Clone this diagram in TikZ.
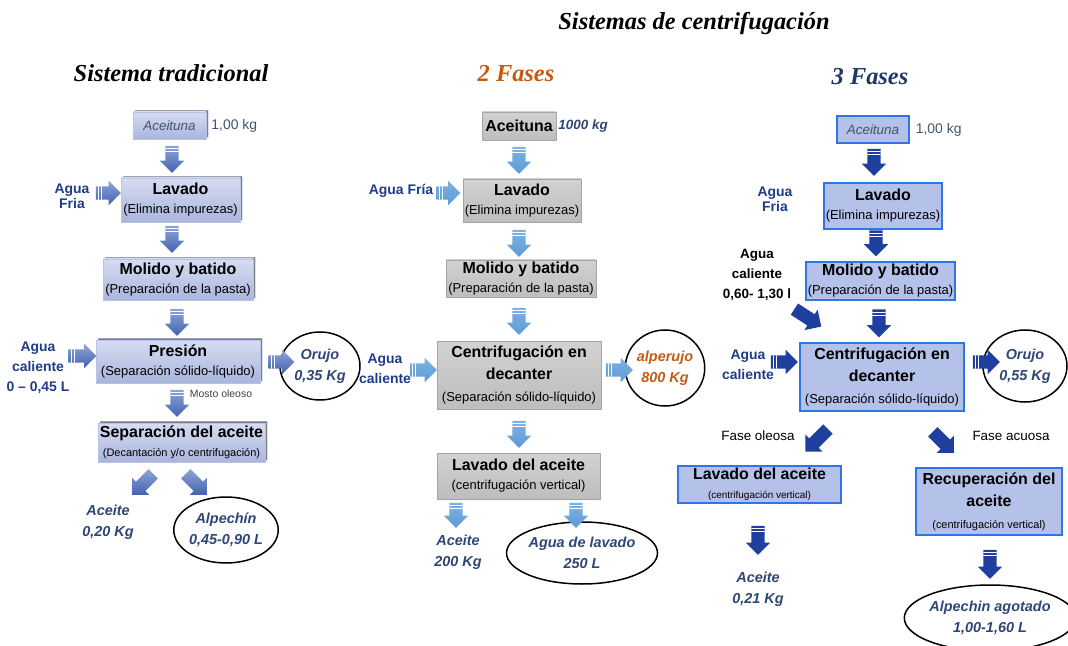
\documentclass[tikz,border=0pt]{standalone}
\usepackage{fontspec}
\setmainfont{Liberation Sans}
\newfontfamily\ttlfont{Liberation Serif}
\usetikzlibrary{shapes.arrows,shapes.geometric,shadows}

\definecolor{lblnavy}{HTML}{1F3C88}
\definecolor{slate}{HTML}{2E4676}
\definecolor{grayblue}{HTML}{44546A}
\definecolor{orng}{HTML}{C55A11}
\definecolor{ttlblue}{HTML}{1F3864}
\definecolor{tradtop}{HTML}{D6DCF1}
\definecolor{tradbot}{HTML}{A9B5DC}
\definecolor{tradline}{HTML}{B9C2E3}
\definecolor{arrtradl}{HTML}{8EA3D8}
\definecolor{arrtrad}{HTML}{4463AE}
\definecolor{arrdos}{HTML}{5B9BD5}
\definecolor{arrdosl}{HTML}{7FB2E3}
\definecolor{arrtres}{HTML}{1F3F9F}
\definecolor{dostop}{HTML}{D2D2D2}
\definecolor{dosbot}{HTML}{BDBDBD}
\definecolor{dosline}{HTML}{A5A5A5}
\definecolor{tresfill}{HTML}{B4C2EA}
\definecolor{tresline}{HTML}{2F75E3}

\newcommand{\subtx}[2][13]{{\mdseries\fontsize{#1}{#1}\selectfont #2}}

\tikzset{
  ttl/.style={font=\ttlfont\bfseries\itshape\fontsize{24.5}{27}\selectfont},
  boxtxt/.style={align=center, inner sep=0pt, font=\bfseries\fontsize{16}{19}\selectfont},
  tradbox/.style={boxtxt, top color=tradtop, bottom color=tradbot, draw=tradline,
    copy shadow={shadow xshift=2bp, shadow yshift=2bp, opacity=.5}},
  dosbox/.style={boxtxt, top color=dostop, bottom color=dosbot, draw=dosline},
  tresbox/.style={boxtxt, fill=tresfill, draw=tresline, line width=1.2bp},
  lbl/.style={align=center, inner sep=0pt, text=lblnavy, font=\bfseries\fontsize{14}{15}\selectfont},
  outtxt/.style={align=center, inner sep=0pt, text=slate, font=\bfseries\itshape\fontsize{14.5}{21}\selectfont},
  outell/.style={outtxt, ellipse, draw=black, line width=1.5bp},
  note/.style={inner sep=0pt, font=\fontsize{13.5}{16}\selectfont},
  barrow/.style={single arrow, inner sep=6.5bp, minimum height=27bp, single arrow head extend=5.5bp},
  darr/.style={barrow, rotate=-90, path picture={
    \fill[white] ([xshift=2.5bp]path picture bounding box.north west) rectangle ([xshift=3.5bp]path picture bounding box.north east);
    \fill[white] ([xshift=5.5bp]path picture bounding box.north west) rectangle ([xshift=6.5bp]path picture bounding box.north east);}},
  rarr/.style={barrow, path picture={
    \fill[white] ([xshift=2.5bp]path picture bounding box.south west) rectangle ([xshift=3.5bp]path picture bounding box.north west);
    \fill[white] ([xshift=5.5bp]path picture bounding box.south west) rectangle ([xshift=6.5bp]path picture bounding box.north west);}},
  trada/.style={top color=arrtradl, bottom color=arrtrad},
  dosa/.style={top color=arrdosl, bottom color=arrdos},
  tresa/.style={fill=arrtres}
}

\begin{document}
\begin{tikzpicture}[x=1bp,y=-1bp]
\useasboundingbox (0,0) rectangle (1068,646);

\node[ttl] (tMain) at (694,24) {Sistemas de centrifugación};

% sistema tradicional
\node[ttl] (tTrad) at (171,73) {Sistema tradicional};
\node[tradbox, minimum width=73bp, minimum height=27bp, text=grayblue, font=\itshape\fontsize{13.5}{16}\selectfont] (aceL) at (169.5,125.5) {Aceituna};
\node[anchor=west, inner sep=0pt, text=grayblue, font=\fontsize{14}{16}\selectfont] (kgL) at ([xshift=5bp]aceL.east) {1,00 kg};
\node[tradbox, minimum width=119bp, minimum height=44bp] (lavL) at (180.5,200) {Lavado\\\subtx{(Elimina impurezas)}};
\node[lbl] (aguaFL) at (72,196) {Agua\\Fria};
\node[tradbox, minimum width=150bp, minimum height=41bp] (molL) at (178,279.5) {Molido y batido\\\subtx{(Preparación de la pasta)}};
\node[tradbox, minimum width=164bp, minimum height=43bp] (presL) at (178,361.5) {Presión\\\subtx{(Separación sólido-líquido)}};
\node[lbl, font=\bfseries\fontsize{14}{20}\selectfont] (aguaCL) at (38,368) {Agua\\caliente\\0 – 0,45 L};
\node[outell, minimum width=80bp, minimum height=68bp] (orujoL) at (320,366) {Orujo\\0,35 Kg};
\node[inner sep=0pt, text=darkgray, font=\fontsize{10.5}{12}\selectfont] (mostoL) at (221,394) {Mosto oleoso};
\node[tradbox, minimum width=167bp, minimum height=39bp] (sepL) at (181.5,442.5) {Separación del aceite\\\subtx[11]{(Decantación y/o centrifugación)}};
\node[outtxt] (aceiteL) at (108,522) {Aceite\\0,20 Kg};
\node[outell, minimum width=92bp, minimum height=66bp] (alpL) at (226,530) {Alpechín\\0,45-0,90 L};

\node[darr, trada] (aL1) at (172,156) {};
\node[darr, trada] (aL2) at (172,236) {};
\node[darr, trada] (aL3) at (177,319) {};
\node[darr, trada] (aL4) at (177,400) {};
\node[rarr, trada, minimum height=25bp] (aL5) at (105,193) {};
\node[rarr, trada, minimum height=28bp] (aL6) at (79,356) {};
\node[rarr, trada, minimum height=26bp] (aL7) at (278,362) {};
\node[barrow, trada, rotate=-135, minimum height=30bp] (aL8) at (145,482) {};
\node[barrow, trada, rotate=-45, minimum height=30bp] (aL9) at (194,482) {};

% 2 fases
\node[ttl, text=orng] (t2F) at (516,74) {2 Fases};
\node[dosbox, minimum width=74bp, minimum height=28bp] (aceM) at (519,126) {Aceituna};
\node[outtxt, anchor=west, font=\bfseries\itshape\fontsize{13.5}{16}\selectfont] (kgM) at ([xshift=2bp]aceM.east) {1000 kg};
\node[dosbox, minimum width=118bp, minimum height=43bp] (lavM) at (522,200.5) {Lavado\\\subtx{(Elimina impurezas)}};
\node[lbl] (aguaFM) at (401,191) {Agua Fría};
\node[dosbox, minimum width=150bp, minimum height=37bp] (molM) at (521,278.5) {Molido y batido\\\subtx{(Preparación de la pasta)}};
\node[dosbox, minimum width=164bp, minimum height=68bp, font=\bfseries\fontsize{16}{22}\selectfont] (cenM) at (519,375) {Centrifugación en\\decanter\\\subtx{(Separación sólido-líquido)}};
\node[lbl, font=\bfseries\fontsize{14}{20}\selectfont] (aguaCM) at (385,369) {Agua\\caliente};
\node[outell, text=orng, minimum width=74bp, minimum height=76bp] (alpM) at (665,368) {alperujo\\800 Kg};
\node[dosbox, minimum width=163bp, minimum height=46bp] (lavaM) at (518.5,476) {Lavado del aceite\\\subtx{(centrifugación vertical)}};
\node[outtxt] (aceiteM) at (458,552) {Aceite\\200 Kg};
\node[outell, minimum width=148bp, minimum height=62bp] (aguaLM) at (582,553) {Agua de lavado\\250 L};

\node[darr, dosa] (aM1) at (519,157) {};
\node[darr, dosa] (aM2) at (519,240) {};
\node[darr, dosa] (aM3) at (519,318) {};
\node[darr, dosa] (aM4) at (519,431) {};
\node[rarr, dosa, minimum height=24bp] (aM5) at (445,193) {};
\node[rarr, dosa] (aM6) at (420,370) {};
\node[rarr, dosa] (aM7) at (616,370) {};
\node[darr, dosa, minimum height=25bp] (aM8) at (456,512) {};
\node[darr, dosa, minimum height=25bp] (aM9) at (576,512) {};

% 3 fases
\node[ttl, text=ttlblue] (t3F) at (870,77) {3 Fases};
\node[tresbox, minimum width=72bp, minimum height=27bp, text=grayblue, font=\itshape\fontsize{13.5}{16}\selectfont] (aceR) at (873,129.5) {Aceituna};
\node[anchor=west, inner sep=0pt, text=grayblue, font=\fontsize{14}{16}\selectfont] (kgR) at ([xshift=6bp]aceR.east) {1,00 kg};
\node[tresbox, minimum width=118bp, minimum height=46bp] (lavR) at (883,206) {Lavado\\\subtx{(Elimina impurezas)}};
\node[lbl] (aguaFR) at (775,199) {Agua\\Fria};
\node[tresbox, minimum width=149bp, minimum height=38bp] (molR) at (880.5,281) {Molido y batido\\\subtx{(Preparación de la pasta)}};
\node[lbl, text=black, font=\bfseries\fontsize{13.5}{20}\selectfont] (aguaCR) at (757,275) {Agua\\caliente\\0,60- 1,30 l};
\node[tresbox, minimum width=164bp, minimum height=68bp, font=\bfseries\fontsize{16}{22}\selectfont] (cenR) at (882,377) {Centrifugación en\\decanter\\\subtx{(Separación sólido-líquido)}};
\node[lbl, font=\bfseries\fontsize{14}{20}\selectfont] (aguaC2R) at (748,365) {Agua\\caliente};
\node[outell, minimum width=84bp, minimum height=72bp] (orujoR) at (1025,366) {Orujo\\0,55 Kg};
\node[note] (oleoR) at (758,436) {Fase oleosa};
\node[note] (acuoR) at (1011,436) {Fase acuosa};
\node[tresbox, minimum width=163bp, minimum height=37bp] (lavaR) at (759.5,484.5) {Lavado del aceite\\\subtx[10]{(centrifugación vertical)}};
\node[tresbox, minimum width=146bp, minimum height=67bp, font=\bfseries\fontsize{16}{22}\selectfont] (recR) at (989,501.5) {Recuperación del\\aceite\\\subtx[11]{(centrifugación vertical)}};
\node[outtxt] (aceiteR) at (758,589) {Aceite\\0,21 Kg};
\node[outell, minimum width=146bp, minimum height=66bp] (alpR) at (990,618) {Alpechin agotado\\1,00-1,60 L};

\node[darr, tresa] (aR1) at (874,159) {};
\node[darr, tresa, minimum height=26bp] (aR2) at (876,240) {};
\node[barrow, tresa, rotate=-33, minimum height=32bp] (aR3) at (805,316) {};
\node[darr, tresa, minimum height=28bp] (aR4) at (879,320) {};
\node[rarr, tresa] (aR5) at (781,362) {};
\node[rarr, tresa] (aR6) at (983,362) {};
\node[barrow, tresa, rotate=-135, minimum height=32bp] (aR7) at (819,438) {};
\node[barrow, tresa, rotate=-45, minimum height=30bp] (aR8) at (941,440) {};
\node[darr, tresa, minimum height=29bp] (aR9) at (758,537) {};
\node[darr, tresa, minimum height=29bp] (aR10) at (990,561) {};
\end{tikzpicture}
\end{document}
